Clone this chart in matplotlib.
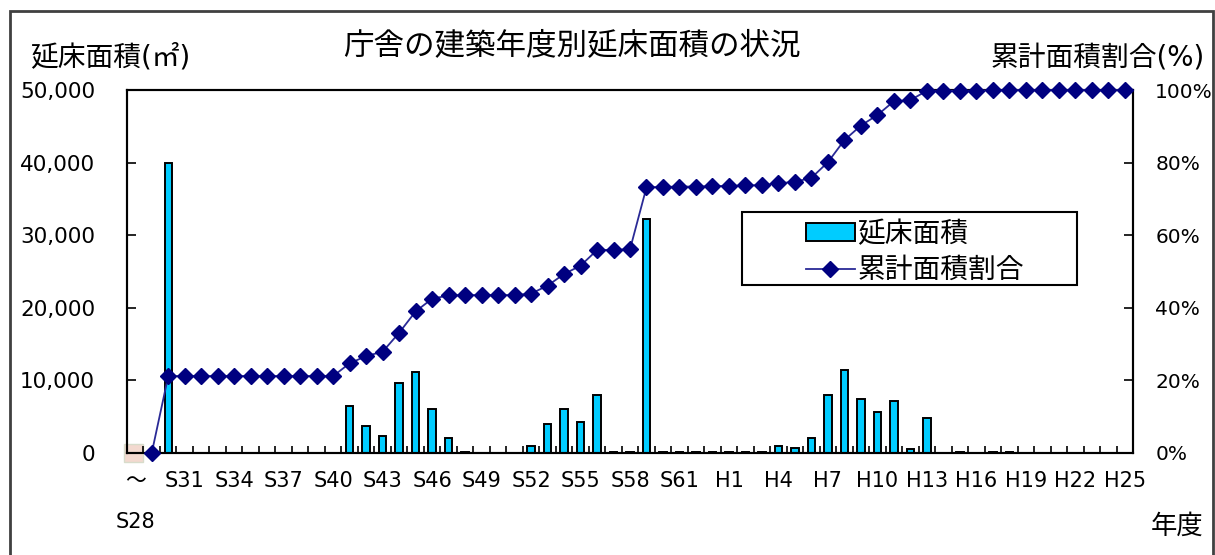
import matplotlib
matplotlib.use('Agg')
import matplotlib.pyplot as plt
import numpy as np
from matplotlib.patches import Patch, Rectangle
from matplotlib.lines import Line2D
from matplotlib.ticker import FuncFormatter

plt.rcParams['font.family'] = ['DejaVu Sans', 'Noto Sans CJK JP']

# --- data ---
years = ['～\nS28'] + [f'S{n}' for n in range(29, 64)] + [f'H{n}' for n in range(1, 26)]

# 延床面積 (㎡) per year
floor_area = [
    0, 0, 40000,                                          # ~S28, S29, S30
    0, 0, 0, 0, 0, 0, 0, 0, 0, 0,                         # S31-S40
    6500, 3700, 2400, 9650, 11200, 6100, 2100, 150,       # S41-S48
    0, 0, 0,                                              # S49-S51
    950, 4050, 6100, 4300, 8050, 150, 150,                # S52-S58
    32300,                                                # S59
    150, 150, 150, 150, 150, 150, 150,                    # S60-H3
    1000, 750, 2100, 8050, 11500, 7450, 5600, 7200, 500, 4800,  # H4-H13
    0, 150, 0, 150, 150,                                  # H14-H18
    0, 0, 0, 0, 0, 0, 0,                                  # H19-H25
]

# 累計面積割合 (%)
cum_ratio = [
    np.nan, 0.0,
    21.2, 21.2, 21.2, 21.2, 21.2, 21.2, 21.2, 21.2, 21.2, 21.2, 21.2,
    24.7, 26.7, 27.9, 33.1, 39.0, 42.5, 43.4, 43.5,
    43.5, 43.5, 43.5,
    43.9, 46.1, 49.3, 51.6, 55.9, 56.0, 56.1,
    73.2,
    73.3, 73.4, 73.4, 73.5, 73.6, 73.7, 73.8,
    74.3, 74.7, 75.8, 80.1, 86.2, 90.2, 93.1, 96.9, 97.2, 99.8,
    99.8, 99.8, 99.8, 99.9, 100.0,
    100.0, 100.0, 100.0, 100.0, 100.0, 100.0, 100.0,
]

bar_color = '#00CCFF'
line_color = '#000080'
link_color = '#2a2a96'

W, H = 1215, 555
fig = plt.figure(figsize=(W / 100, H / 100), dpi=100)
ax = fig.add_axes([127 / W, 1 - 453 / H, 1006 / W, 363 / H])

x = np.arange(len(years))
ax.bar(x, floor_area, width=0.45, color=bar_color, edgecolor='black', linewidth=1.4, zorder=2)

ax.set_xlim(-0.5, len(years) - 0.5)
ax.set_ylim(0, 50000)
ax.set_yticks(np.arange(0, 50001, 10000))
ax.yaxis.set_major_formatter(FuncFormatter(lambda v, p: f'{int(v):,}'))

# category labels every 3 years, boundary ticks in between
lab_pos = x[::3]
ax.set_xticks(lab_pos)
ax.set_xticklabels([years[i] for i in lab_pos])
ax.set_xticks(np.arange(0.5, len(years) - 1, 1), minor=True)
ax.tick_params(axis='x', which='major', length=0, pad=13, labelsize=15)
ax.tick_params(axis='x', which='minor', direction='in', length=5, width=1.2)
ax.tick_params(axis='y', direction='in', length=6.5, width=1.2, pad=23, labelsize=15.5)
ax.xaxis.get_majorticklabels()[0].set_linespacing(2.3)

for s in ax.spines.values():
    s.set_linewidth(1.5)
    s.set_color('black')

# faint square at the origin, as in the source image
ax.add_patch(Rectangle((-0.7, -1200), 1.2, 2400, facecolor='#f3d9cf', edgecolor='#d8dccb',
                       linewidth=1, clip_on=False, zorder=1))

ax2 = ax.twinx()
ax2.plot(x, cum_ratio, color=link_color, lw=1.3, marker='D', markersize=8,
         markerfacecolor=line_color, markeredgecolor=line_color, clip_on=False, zorder=3)
ax2.set_ylim(0, 100)
ax2.set_yticks(np.arange(0, 101, 20))
ax2.yaxis.set_major_formatter(FuncFormatter(lambda v, p: f'{int(v)}%'))
ax2.tick_params(axis='y', direction='in', length=6.5, width=1.2, pad=16, labelsize=14.5)
for s in ax2.spines.values():
    s.set_linewidth(1.5)

# legend: fixed box like the original, entries placed inside
fig.patches.append(Rectangle((742 / W, 1 - 285 / H), 335 / W, 73 / H, transform=fig.transFigure,
                             facecolor='white', edgecolor='black', linewidth=1.5, zorder=4))
handles = [
    Patch(facecolor=bar_color, edgecolor='black', linewidth=1.4, label='延床面積'),
    Line2D([], [], color=link_color, lw=1.3, marker='D', markersize=8,
           markerfacecolor=line_color, markeredgecolor=line_color, label='累計面積割合'),
]
leg = fig.legend(handles=handles, loc='center left', bbox_to_anchor=(806 / W, 1 - 252 / H),
                 fontsize=20, frameon=False, handlelength=1.75, handleheight=0.6,
                 handletextpad=0.1, borderpad=0, labelspacing=0.3, borderaxespad=0)
leg.set_zorder(5)

# texts
fig.text(572 / W, 1 - 47 / H, '庁舎の建築年度別延床面積の状況', ha='center', va='center', fontsize=22)
fig.text(30 / W, 1 - 57 / H, '延床面積(㎡)', ha='left', va='center', fontsize=20)
fig.text(1205 / W, 1 - 57 / H, '累計面積割合(%)', ha='right', va='center', fontsize=20)
fig.text(1177 / W, 1 - 527 / H, '年度', ha='center', va='center', fontsize=19)

# outer frame
fig.patches.append(Rectangle((10 / W, -0.1), 1203 / W, 1.1 - 11 / H, transform=fig.transFigure,
                             fill=False, edgecolor='#404040', linewidth=2))

fig.savefig('out.png', dpi=100)
